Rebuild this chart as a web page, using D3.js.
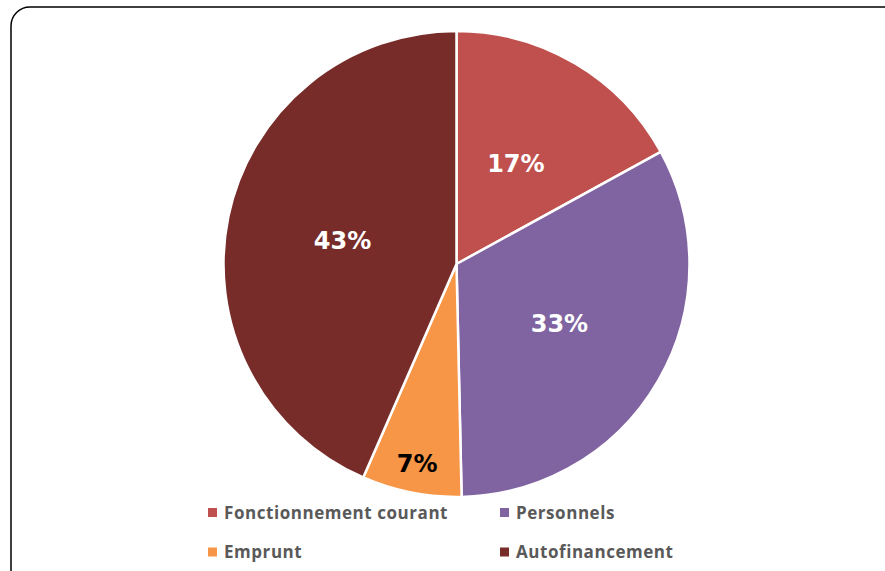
<!DOCTYPE html>
<meta charset="utf-8">
<style>
body { margin: 0; background: #fff; }
svg { display: block; }
.pct { font: bold 24px "DejaVu Sans", sans-serif; }
.legend text { font: bold 17px "Open Sans", sans-serif; fill: #595959; letter-spacing: 0.55px; }
</style>
<svg width="885" height="571"></svg>
<script src="https://cdn.jsdelivr.net/npm/d3@7/dist/d3.min.js"></script>
<script>
// categories and shares (percent)
var categories = ["Fonctionnement courant", "Personnels", "Emprunt", "Autofinancement"];
var shares = [17.0, 32.6, 6.9, 43.4];
var colors = ["#c0504d", "#8064a2", "#f79646", "#772c2a"];
var labelColors = ["#fff", "#fff", "#000", "#fff"];
var labelRadius = [0.5, 0.51, 0.87, 0.5];

var svg = d3.select("svg");

// frame
svg.append("rect")
    .attr("x", 11).attr("y", 7)
    .attr("width", 900).attr("height", 600)
    .attr("rx", 19).attr("ry", 19)
    .attr("fill", "none")
    .attr("stroke", "#000")
    .attr("stroke-width", 1.5);

var cx = 456.5, cy = 264, r = 233;

var pie = d3.pie().sort(null).value(function(d) { return d; });
var arcs = pie(shares);
var arc = d3.arc().innerRadius(0).outerRadius(r);

var g = svg.append("g").attr("transform", "translate(" + cx + "," + cy + ")");

g.selectAll("path.slice")
  .data(arcs)
  .enter().append("path")
    .attr("class", "slice")
    .attr("d", arc)
    .attr("fill", function(d, i) { return colors[i]; })
    .attr("stroke", "#fff")
    .attr("stroke-width", 2.5)
    .attr("stroke-linejoin", "round");

g.selectAll("text.pct")
  .data(arcs)
  .enter().append("text")
    .attr("class", "pct")
    .attr("transform", function(d, i) {
      var a = (d.startAngle + d.endAngle) / 2, rr = r * labelRadius[i];
      return "translate(" + (Math.sin(a) * rr) + "," + (-Math.cos(a) * rr) + ")";
    })
    .attr("text-anchor", "middle")
    .attr("dy", "0.36em")
    .attr("fill", function(d, i) { return labelColors[i]; })
    .text(function(d) { return Math.round(d.data) + "%"; });

// legend, two columns
var legend = svg.append("g").attr("class", "legend");
var cols = [208, 500], rows = [512.5, 552];
var item = legend.selectAll("g")
  .data(categories)
  .enter().append("g")
    .attr("transform", function(d, i) {
      return "translate(" + cols[i % 2] + "," + rows[Math.floor(i / 2)] + ")";
    });
item.append("rect")
    .attr("x", 0).attr("y", -4.5)
    .attr("width", 9).attr("height", 9)
    .attr("fill", function(d, i) { return colors[i]; });
item.append("text")
    .attr("x", 16)
    .attr("dy", "0.36em")
    .text(function(d) { return d; });
</script>
